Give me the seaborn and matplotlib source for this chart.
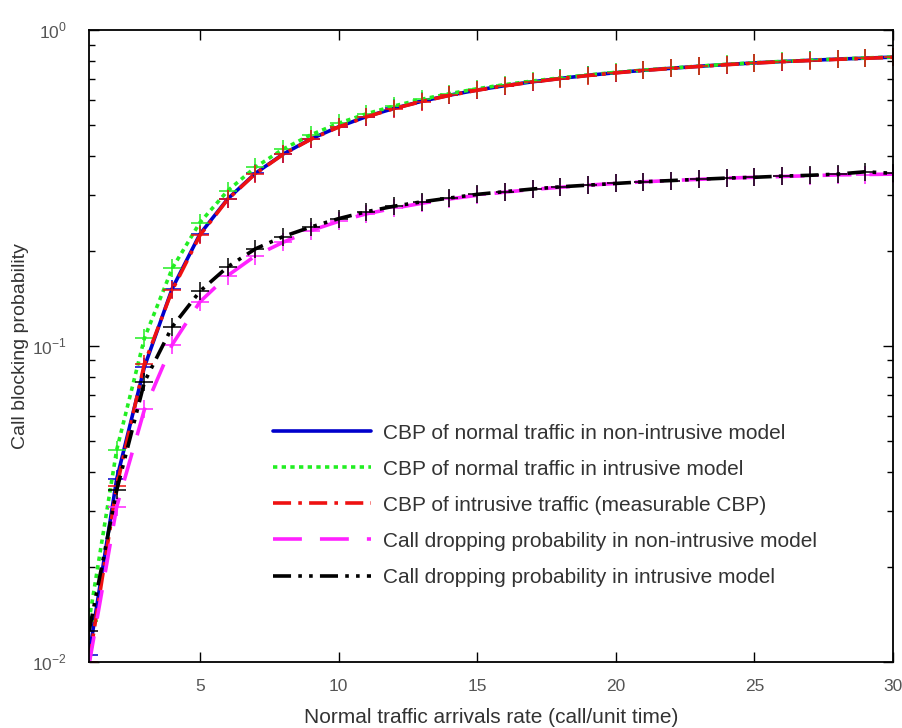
import numpy as np
import pandas as pd
import seaborn as sns
import matplotlib.pyplot as plt
from matplotlib.lines import Line2D
from matplotlib.ticker import FixedLocator, LogLocator, FuncFormatter, NullFormatter

# arrival rate of normal traffic (call/unit time)
arrival_rate = list(range(1, 31))

cbp_normal_nonintrusive = [0.0105, 0.038, 0.086, 0.152, 0.226, 0.292, 0.352, 0.405, 0.452, 0.494,
                           0.532, 0.565, 0.595, 0.622, 0.646, 0.667, 0.686, 0.703, 0.719, 0.733,
                           0.746, 0.757, 0.768, 0.778, 0.787, 0.795, 0.802, 0.809, 0.815, 0.821]
cbp_normal_intrusive = [0.0135, 0.047, 0.106, 0.176, 0.246, 0.310, 0.368, 0.420, 0.466, 0.507,
                        0.543, 0.575, 0.604, 0.629, 0.652, 0.672, 0.690, 0.706, 0.721, 0.735,
                        0.747, 0.758, 0.769, 0.779, 0.788, 0.796, 0.803, 0.810, 0.816, 0.822]
cbp_intrusive_traffic = [0.0100, 0.036, 0.088, 0.150, 0.224, 0.291, 0.351, 0.404, 0.451, 0.493,
                         0.531, 0.564, 0.594, 0.621, 0.645, 0.666, 0.685, 0.702, 0.718, 0.732,
                         0.745, 0.756, 0.767, 0.777, 0.786, 0.794, 0.801, 0.808, 0.814, 0.820]
cdp_nonintrusive = [0.0098, 0.031, 0.063, 0.101, 0.138, 0.167, 0.193, 0.213, 0.232, 0.248,
                    0.262, 0.273, 0.283, 0.292, 0.300, 0.307, 0.313, 0.318, 0.323, 0.327,
                    0.331, 0.334, 0.337, 0.340, 0.342, 0.344, 0.346, 0.348, 0.349, 0.350]
cdp_intrusive = [0.0125, 0.035, 0.077, 0.115, 0.149, 0.178, 0.203, 0.222, 0.238, 0.253,
                 0.266, 0.277, 0.286, 0.294, 0.302, 0.308, 0.314, 0.319, 0.323, 0.327,
                 0.331, 0.334, 0.337, 0.340, 0.342, 0.345, 0.347, 0.350, 0.356, 0.352]

labels = ['CBP of normal traffic in non-intrusive model',
          'CBP of normal traffic in intrusive model',
          'CBP of intrusive traffic (measurable CBP)',
          'Call dropping probability in non-intrusive model',
          'Call dropping probability in intrusive model']

series = [cbp_normal_nonintrusive, cbp_normal_intrusive, cbp_intrusive_traffic,
          cdp_nonintrusive, cdp_intrusive]
colors = ['#0000cc', '#22ee22', '#ee1111', '#ff22ff', '#000000']
styles = ['-', (0, (1.2, 1.2)), (0, (5, 2, 1, 2)), (0, (8, 5)), (0, (5, 2, 1, 2, 1, 2))]

sns.set_style("ticks")
plt.rcParams['font.family'] = ['Liberation Sans', 'DejaVu Sans']
plt.rcParams['mathtext.fontset'] = 'custom'
plt.rcParams['mathtext.rm'] = 'Liberation Sans'

fig = plt.figure(figsize=(9.02, 7.28), dpi=100)
ax = fig.add_axes([0.0987, 0.0907, 0.8913, 0.868])

for lab, vals, c, ls in zip(labels, series, colors, styles):
    df = pd.DataFrame({'rate': arrival_rate, 'prob': vals})
    sns.lineplot(data=df, x='rate', y='prob', ax=ax, color=c, linestyle=ls, linewidth=2.6,
                 marker='+', markersize=13, markeredgewidth=1.1, markeredgecolor=c,
                 legend=False)

ax.set_yscale('log')
ax.set_xlim(1, 30)
ax.set_ylim(0.01, 1)

ax.xaxis.set_major_locator(FixedLocator([5, 10, 15, 20, 25, 30]))
ax.yaxis.set_major_locator(LogLocator(base=10, numticks=10))
ax.yaxis.set_minor_locator(LogLocator(base=10, subs=np.arange(2, 10), numticks=10))
ax.yaxis.set_minor_formatter(NullFormatter())
ax.yaxis.set_major_formatter(FuncFormatter(lambda v, p: r'$10^{%d}$' % round(np.log10(v))))

ax.tick_params(which='both', direction='in', top=True, right=True, colors='black',
               labelcolor='#555555', labelsize=12.5)
ax.tick_params(which='major', length=7, width=1)
ax.tick_params(which='minor', length=4, width=1)
ax.tick_params(axis='x', pad=12)
ax.tick_params(axis='y', pad=16)
for sp in ax.spines.values():
    sp.set_linewidth(1.3)
    sp.set_color('black')

ax.set_xlabel('Normal traffic arrivals rate (call/unit time)', fontsize=15, color='#333333', labelpad=10)
ax.set_ylabel('Call blocking probability', fontsize=14, color='#333333', labelpad=2)

handles = [Line2D([], [], color=c, linestyle=ls, linewidth=2.6) for c, ls in zip(colors, styles)]
ax.legend(handles, labels, loc='upper left', bbox_to_anchor=(0.205, 0.407), frameon=False,
          fontsize=15, handlelength=4.7, handletextpad=0.6, labelspacing=0.82,
          labelcolor='#333333')

fig.savefig('out.png', dpi=100)
